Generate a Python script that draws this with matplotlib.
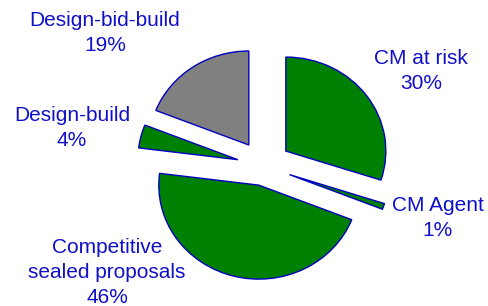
import matplotlib.pyplot as plt

# slice data, clockwise from 12 o'clock
labels = ['CM at risk', 'CM Agent', 'Competitive\nsealed proposals', 'Design-build', 'Design-bid-build']
shares = [30, 1, 46, 4, 19]
colors = ['#008000', '#008000', '#008000', '#008000', '#808080']
explode = [0.27, 0.27, 0.21, 0.27, 0.27]
# label centres in pie units (radius = 1)
label_pos = [(1.57, 1.01), (1.74, -0.55), (-1.57, -1.13), (-1.92, 0.40), (-1.59, 1.41)]

plt.rcParams['font.family'] = ['Liberation Sans', 'DejaVu Sans']

fig = plt.figure(figsize=(4.89, 3.06), dpi=100)
ax = fig.add_axes([0, 0, 1, 1])
ax.pie(shares, colors=colors, explode=explode, startangle=90, counterclock=False,
       wedgeprops=dict(edgecolor='#0000C0', linewidth=1.0))

# pie is drawn a little wider than tall in the original
rx, ry = 100.0, 94.0
cx, cy = 264, 166
ax.set_aspect('auto')
ax.set_xlim(-cx / rx, (489 - cx) / rx)
ax.set_ylim(-(306 - cy) / ry, cy / ry)
ax.axis('off')

for lab, val, (x, y) in zip(labels, shares, label_pos):
    ax.text(x, y, '%s\n%d%%' % (lab, val), ha='center', va='center',
            color='#1010C8', fontsize=15, linespacing=1.4)

fig.savefig('out.png', dpi=100)
